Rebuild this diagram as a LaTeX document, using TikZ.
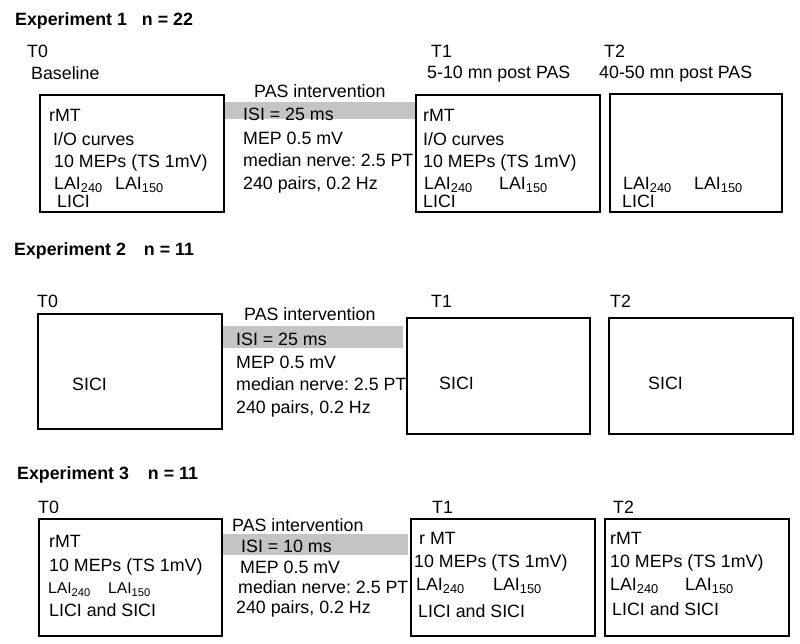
\documentclass[tikz,border=0pt]{standalone}
\usepackage{fontspec}
\setmainfont{Liberation Sans}
\frenchspacing
\definecolor{bargray}{RGB}{196,196,196}
\newcommand\lai[1]{LAI\raisebox{-0.2em}{\fontsize{12.8}{13}\selectfont #1}}
\newcommand\laism[1]{LAI\raisebox{-0.2em}{\fontsize{11.2}{12}\selectfont #1}}
\tikzset{
  txt/.style={anchor=base west, inner sep=0pt, font=\fontsize{17.8}{20}\selectfont},
  smalltxt/.style={anchor=base west, inner sep=0pt, font=\fontsize{15.6}{18}\selectfont},
  title/.style={anchor=base west, inner sep=0pt, font=\fontsize{17.8}{20}\selectfont\bfseries},
  stepbox/.style={draw=black, line width=2pt, anchor=north west, inner sep=0pt, minimum width=#1},
  bar/.style={fill=bargray, draw=none, anchor=north west, inner sep=0pt, minimum width=#1}
}
\begin{document}
\begin{tikzpicture}[x=1pt,y=-1pt]
\useasboundingbox (0,0) rectangle (800,643);
% ---------- Experiment 1
\node[title] (t1) at (15,25) {Experiment 1\hspace{15pt}n = 22};
\node[bar=192pt, minimum height=17pt] (g1) at (223,102) {};
\node[stepbox=184pt, minimum height=117pt] (a0) at (39,94) {};
\node[stepbox=184pt, minimum height=117pt] (a1) at (415,94) {};
\node[stepbox=172pt, minimum height=118pt] (a2) at (609,93) {};
\node[txt] (a0h) at (27,57) {T0};
\node[txt] (a0s) at (31,79) {Baseline};
\node[txt] (a1h) at (431,57) {T1};
\node[txt] (a1s) at (427,78) {5-10 mn post PAS};
\node[txt] (a2h) at (604,57) {T2};
\node[txt] (a2s) at (599,78) {40-50 mn post PAS};
\node[txt] (a0l1) at (49,121) {rMT};
\node[txt] (a0l2) at (53,145) {I/O curves};
\node[txt] (a0l3) at (54,167) {10 MEPs (TS 1mV)};
\node[txt] (a0l4) at (54,189) {\lai{240}};
\node[txt] (a0l5) at (115,189) {\lai{150}};
\node[txt] (a0l6) at (57,207.5) {LICI};
\node[txt] (p1h) at (254,97) {PAS intervention};
\node[txt] (p1a) at (243,120) {ISI = 25 ms};
\node[txt] (p1b) at (243,144) {MEP 0.5 mV};
\node[txt] (p1c) at (243,166) {median nerve: 2.5 PT};
\node[txt] (p1d) at (243,189) {240 pairs, 0.2 Hz};
\node[txt] (a1l1) at (423,121) {rMT};
\node[txt] (a1l2) at (423,145) {I/O curves};
\node[txt] (a1l3) at (423,167) {10 MEPs (TS 1mV)};
\node[txt] (a1l4) at (424,189) {\lai{240}};
\node[txt] (a1l5) at (499,189) {\lai{150}};
\node[txt] (a1l6) at (423,207.5) {LICI};
\node[txt] (a2l4) at (623,189) {\lai{240}};
\node[txt] (a2l5) at (694,189) {\lai{150}};
\node[txt] (a2l6) at (622,207.5) {LICI};
% ---------- Experiment 2
\node[title] (t2) at (14,255) {Experiment 2\hspace{18pt}n = 11};
\node[bar=182pt, minimum height=22pt] (g2) at (221,326) {};
\node[stepbox=184pt, minimum height=115pt] (b0) at (37,313) {};
\node[stepbox=183pt, minimum height=116pt] (b1) at (406,317) {};
\node[stepbox=184pt, minimum height=116pt] (b2) at (608,317) {};
\node[txt] (b0h) at (37,307) {T0};
\node[txt] (b1h) at (431,307) {T1};
\node[txt] (b2h) at (610,307) {T2};
\node[txt] (b0l) at (72,390) {SICI};
\node[txt] (b1l) at (439,389) {SICI};
\node[txt] (b2l) at (648,389) {SICI};
\node[txt] (p2h) at (244,320) {PAS intervention};
\node[txt] (p2a) at (236,345) {ISI = 25 ms};
\node[txt] (p2b) at (236,368) {MEP 0.5 mV};
\node[txt] (p2c) at (236,390) {median nerve: 2.5 PT};
\node[txt] (p2d) at (236,413) {240 pairs, 0.2 Hz};
% ---------- Experiment 3
\node[title] (t3) at (17,479) {Experiment 3\hspace{19pt}n = 11};
\node[bar=187pt, minimum height=21pt] (g3) at (221,534) {};
\node[stepbox=183pt, minimum height=117pt] (c0) at (38,518) {};
\node[stepbox=184pt, minimum height=117pt] (c1) at (410,518) {};
\node[stepbox=184pt, minimum height=117pt] (c2) at (604,518) {};
\node[txt] (c0h) at (38,513) {T0};
\node[txt] (c1h) at (432,513) {T1};
\node[txt] (c2h) at (613,513) {T2};
\node[txt] (c0l1) at (49,547) {rMT};
\node[txt] (c0l2) at (49,571) {10 MEPs (TS 1mV)};
\node[smalltxt] (c0l3) at (48,593) {\laism{240}};
\node[smalltxt] (c0l4) at (108,593) {\laism{150}};
\node[txt] (c0l5) at (49,616) {LICI and SICI};
\node[txt] (p3h) at (232,531) {PAS intervention};
\node[txt] (p3a) at (241,552) {ISI = 10 ms};
\node[txt] (p3b) at (240,573) {MEP 0.5 mV};
\node[txt] (p3c) at (238,593) {median nerve: 2.5 PT};
\node[txt] (p3d) at (236,613) {240 pairs, 0.2 Hz};
\node[txt] (c1l1) at (419,544) {r MT};
\node[txt] (c1l2) at (414,567) {10 MEPs (TS 1mV)};
\node[txt] (c1l3) at (416,590) {\lai{240}};
\node[txt] (c1l4) at (493,590) {\lai{150}};
\node[txt] (c1l5) at (418,617) {LICI and SICI};
\node[txt] (c2l1) at (610,544) {rMT};
\node[txt] (c2l2) at (610,567) {10 MEPs (TS 1mV)};
\node[txt] (c2l3) at (610,590) {\lai{240}};
\node[txt] (c2l4) at (685,590) {\lai{150}};
\node[txt] (c2l5) at (612,615) {LICI and SICI};
\end{tikzpicture}
\end{document}
